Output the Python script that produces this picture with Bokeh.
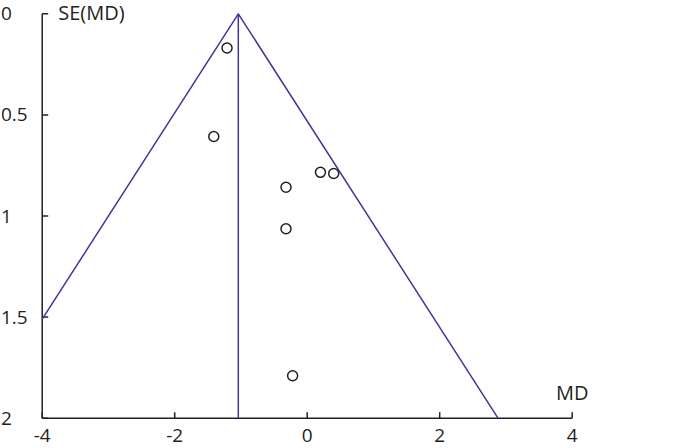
from bokeh.plotting import figure
from bokeh.models import Range1d
from bokeh.core.properties import value
from bokeh.embed import file_html
from bokeh.resources import INLINE

# data
md = [-1.21, -1.41, 0.20, 0.40, -0.32, -0.32, -0.22]
se = [0.169, 0.607, 0.784, 0.790, 0.858, 1.063, 1.790]
pooled = -1.04
se_max = 2.0
x_ticks = [-4, -2, 0, 2, 4]
y_ticks = [0, 0.5, 1, 1.5, 2]
x_tick_labels = ["-4", "-2", "0", "2", "4"]
y_tick_labels = ["0", "0.5", "1", "1.5", "2"]

FONT = value("Open Sans")
FS = value("19px")
AX = "#231f20"
LINE = "#44359a"

# pixel scale of the reference: 66.25 px per MD unit, 202.2 px per SE unit
W, H = 700, 448
x0_px, y0_px = 41.7, 13.3
kx, ky = 66.25, 202.2
xmin = x_ticks[0] - x0_px / kx
xmax = x_ticks[0] + (W - x0_px) / kx
ymin = y_ticks[0] - y0_px / ky
ymax = y_ticks[0] + (H - y0_px) / ky

p = figure(width=W, height=H, output_backend="svg", toolbar_location=None,
           x_range=Range1d(xmin, xmax), y_range=Range1d(ymax, ymin),
           x_axis_type=None, y_axis_type=None, min_border=0)
p.grid.visible = False
p.outline_line_color = None

xa, xb = x_ticks[0], x_ticks[-1]
ya, yb = y_ticks[0], y_ticks[-1]
tick_x = 6 / kx
tick_y = 6 / ky

# axes
p.segment(x0=[xa, xa], y0=[ya, yb], x1=[xa, xb], y1=[yb, yb], line_color=AX, line_width=1.5)
p.segment(x0=x_ticks, y0=[yb] * len(x_ticks), x1=x_ticks, y1=[yb - tick_y] * len(x_ticks),
          line_color=AX, line_width=1.5)
p.segment(x0=[xa] * len(y_ticks), y0=y_ticks, x1=[xa + tick_x] * len(y_ticks), y1=y_ticks,
          line_color=AX, line_width=1.5)

# funnel (95% limits, cut at the x-axis range)
left_end_se = (pooled - xa) / 1.96
p.line([xa, pooled, pooled + 1.96 * se_max], [left_end_se, 0, se_max],
       line_color=LINE, line_width=1.5)
p.line([pooled, pooled], [0, se_max], line_color=LINE, line_width=1.5)

p.scatter(md, se, marker="circle", size=10, line_color=AX, line_width=1.5, fill_color="white")

# tick labels
p.text(x=x_ticks, y=[yb + 17 / ky] * len(x_ticks), text=x_tick_labels, text_align="center",
       text_baseline="middle", text_font=FONT, text_font_size=FS, text_color=AX)
p.text(x=[xmin + 0.5 / kx] * len(y_ticks), y=y_ticks, text=y_tick_labels, text_align="left",
       text_baseline="middle", text_font=FONT, text_font_size=FS, text_color=AX)

# axis titles
p.text(x=[xa + 16 / kx], y=[ya - 1 / ky], text=["SE(MD)"], text_align="left",
       text_baseline="middle", text_font=FONT, text_font_size=value("20px"), text_color=AX)
p.text(x=[xb], y=[yb - 26 / ky], text=["MD"], text_align="center",
       text_baseline="middle", text_font=FONT, text_font_size=value("20px"), text_color=AX)

open("out.html", "w").write(file_html(p, INLINE))
